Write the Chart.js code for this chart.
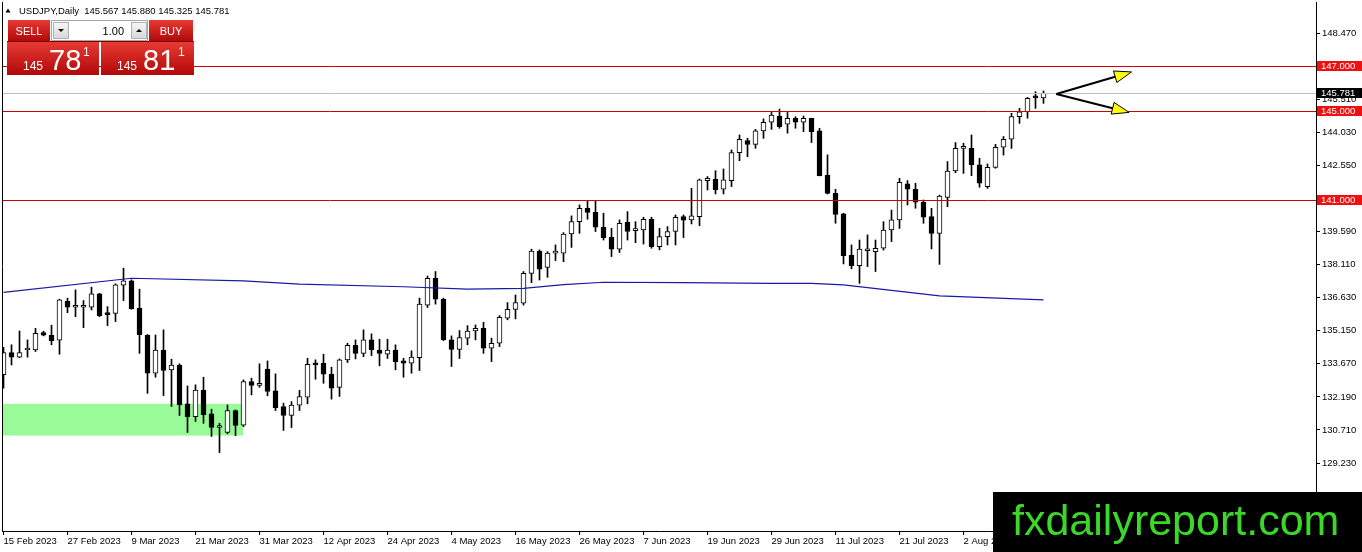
<!DOCTYPE html>
<html>
<head>
<meta charset="utf-8">
<title>USDJPY, Daily</title>
<script src="https://cdn.jsdelivr.net/npm/chart.js@4.4.0/dist/chart.umd.min.js"></script>
<style>
  html, body { margin: 0; padding: 0; background: #fff; }
  #wrap { position: relative; width: 1362px; height: 552px; overflow: hidden; }
</style>
</head>
<body>
<div id="wrap"><canvas id="chart" width="1362" height="552"></canvas></div>
<script>
// title line
const chartTitle = 'USDJPY,Daily';
const lastBar = ['145.567', '145.880', '145.325', '145.781'];

// daily candles, 15 Feb 2023 .. 16 Aug 2023 (one per weekday)
const opens = [
  133.18, 134.17, 133.97, 134.29, 134.29, 135.07, 134.95, 134.73, 136.47, 136.20,
  136.20, 136.20, 136.80, 135.96, 135.93, 137.19, 137.38, 136.16, 134.96, 133.25,
  134.29, 133.40, 133.61, 131.88, 131.31, 132.50, 131.43, 130.82, 130.60, 131.58,
  130.92, 132.88, 132.70, 133.43, 132.46, 131.76, 131.36, 131.82, 132.18, 133.70,
  133.70, 133.21, 132.62, 133.85, 134.50, 134.14, 134.74, 134.29, 134.10, 134.29,
  133.80, 133.70, 133.95, 136.29, 137.50, 136.56, 134.74, 134.32, 134.82, 135.14,
  135.26, 134.37, 134.59, 135.71, 136.11, 136.38, 137.72, 138.72, 137.98, 138.62,
  138.62, 139.48, 140.03, 140.63, 140.45, 139.78, 139.33, 138.80, 140.00, 139.63,
  139.66, 140.14, 138.91, 139.36, 139.59, 140.26, 140.11, 140.26, 141.87, 141.94,
  141.48, 141.87, 143.12, 143.66, 143.49, 144.09, 144.48, 144.76, 144.39, 144.66,
  144.48, 144.66, 144.09, 142.11, 141.30, 140.38, 138.54, 138.06, 138.73, 138.69,
  138.84, 139.66, 140.11, 141.72, 141.49, 140.90, 140.26, 139.51, 141.12, 142.30,
  143.31, 143.31, 142.57, 141.60, 142.46, 143.36, 143.72, 144.73, 144.95, 145.59,
  145.567
];
const highs = [
  134.41, 134.52, 135.14, 134.74, 135.26, 135.13, 135.40, 136.56, 136.61, 136.98,
  136.50, 137.10, 136.83, 136.23, 137.25, 137.95, 137.43, 137.01, 134.98, 134.96,
  135.19, 133.88, 133.67, 132.68, 132.73, 133.07, 131.64, 131.01, 131.83, 131.61,
  132.95, 133.03, 133.67, 133.80, 133.22, 131.91, 131.98, 132.48, 133.92, 133.85,
  134.10, 133.52, 133.89, 134.59, 134.74, 135.19, 135.01, 134.77, 134.77, 134.52,
  133.92, 134.25, 136.61, 137.60, 137.80, 136.61, 134.92, 135.16, 135.38, 135.41,
  135.53, 134.82, 135.83, 136.41, 136.75, 137.80, 138.80, 138.77, 138.69, 138.99,
  139.54, 140.29, 140.78, 140.97, 140.97, 140.41, 139.73, 140.11, 140.48, 140.03,
  140.23, 140.23, 139.73, 139.81, 140.33, 140.33, 141.52, 141.94, 142.05, 142.31,
  142.39, 143.24, 143.91, 143.76, 144.16, 144.63, 144.92, 145.07, 144.92, 144.73,
  144.76, 144.66, 144.21, 143.02, 141.48, 140.41, 138.99, 139.21, 139.44, 139.21,
  140.03, 140.55, 141.97, 141.87, 141.75, 141.00, 140.63, 141.22, 142.72, 143.57,
  143.54, 143.91, 142.87, 142.61, 143.49, 143.84, 144.88, 145.10, 145.59, 145.85,
  145.880
];
const lows = [
  132.58, 133.62, 133.95, 133.97, 134.22, 134.92, 134.52, 134.10, 135.96, 135.78,
  135.29, 136.08, 135.78, 135.38, 135.56, 136.50, 136.11, 134.14, 132.35, 133.07,
  132.25, 131.76, 131.36, 130.60, 131.09, 131.01, 130.42, 129.70, 130.54, 130.46,
  130.86, 132.28, 132.62, 132.24, 131.58, 130.69, 130.82, 131.58, 131.88, 132.98,
  132.80, 132.09, 132.21, 133.73, 133.89, 133.99, 134.04, 133.58, 133.91, 133.40,
  133.07, 133.25, 133.37, 136.19, 136.34, 134.71, 133.55, 133.91, 134.52, 134.74,
  134.14, 133.77, 134.44, 135.64, 135.68, 136.30, 137.30, 137.42, 137.54, 138.29,
  138.24, 138.88, 139.51, 140.14, 139.59, 139.21, 138.47, 138.65, 139.21, 139.09,
  139.03, 138.84, 138.77, 138.99, 138.99, 139.32, 139.93, 139.85, 141.45, 141.27,
  141.27, 141.60, 142.76, 142.94, 143.31, 143.76, 144.16, 144.21, 143.99, 144.21,
  144.06, 143.57, 142.08, 141.27, 139.96, 138.14, 137.92, 137.27, 138.02, 137.80,
  138.76, 139.14, 139.73, 140.78, 140.63, 139.96, 138.81, 138.12, 140.70, 142.22,
  142.19, 142.09, 141.57, 141.52, 142.42, 143.01, 143.31, 144.43, 144.66, 145.10,
  145.325
];
const closes = [
  134.17, 133.97, 134.17, 134.29, 135.04, 134.95, 134.71, 136.53, 136.20, 136.20,
  136.20, 136.80, 135.83, 135.87, 137.20, 137.38, 136.14, 134.98, 133.25, 134.29,
  133.37, 133.61, 131.83, 131.31, 132.50, 131.39, 130.82, 130.82, 131.58, 130.91,
  132.88, 132.70, 132.80, 132.43, 131.71, 131.36, 131.82, 132.21, 133.65, 133.62,
  133.21, 132.58, 133.85, 134.50, 134.14, 134.74, 134.29, 134.14, 134.29, 133.77,
  133.70, 133.97, 136.34, 137.50, 136.56, 134.74, 134.32, 134.85, 135.14, 135.26,
  134.37, 134.59, 135.75, 136.11, 136.41, 137.72, 138.72, 137.90, 138.62, 138.62,
  139.48, 140.03, 140.63, 140.45, 139.78, 139.32, 138.80, 139.96, 139.59, 139.63,
  140.14, 138.91, 139.36, 139.59, 140.23, 140.10, 140.29, 141.90, 141.97, 141.45,
  141.90, 143.12, 143.72, 143.49, 144.09, 144.48, 144.80, 144.28, 144.66, 144.48,
  144.66, 144.06, 142.09, 141.30, 140.36, 138.51, 138.06, 138.80, 138.73, 138.84,
  139.66, 140.11, 141.79, 141.48, 140.90, 140.23, 139.51, 141.18, 142.30, 143.31,
  143.31, 142.57, 141.75, 142.46, 143.36, 143.72, 144.73, 144.95, 145.55, 145.567,
  145.781
];

// moving average, read at a few bars
const maBars = [0, 16, 30, 37, 50, 58, 65, 70, 75, 85, 96, 101, 105, 108, 117, 130];
const maValues = [136.87, 137.50, 137.38, 137.24, 137.12, 137.01, 137.05, 137.21,
                  137.32, 137.30, 137.27, 137.27, 137.20, 137.08, 136.71, 136.53];

// axes
const xTickBars = [0, 8, 16, 24, 32, 40, 48, 56, 64, 72, 80, 88, 96, 104, 112, 120, 128];
const xTickLabels = ['15 Feb 2023', '27 Feb 2023', '9 Mar 2023', '21 Mar 2023', '31 Mar 2023',
  '12 Apr 2023', '24 Apr 2023', '4 May 2023', '16 May 2023', '26 May 2023', '7 Jun 2023',
  '19 Jun 2023', '29 Jun 2023', '11 Jul 2023', '21 Jul 2023', '2 Aug 2023', '14 Aug 2023'];
const yTicks = [129.23, 130.71, 132.19, 133.67, 135.15, 136.63, 138.11, 139.59,
                141.07, 142.55, 144.03, 145.51, 146.99, 148.47];

// drawn objects
const redLevels = [147.0, 145.0, 141.0];
const bidPrice = 145.781;
const zoneBars = [-1, 29.95];
const zonePrices = [130.46, 131.88];
const arrowFrom = [131.6, 145.74];
const arrowTo = [[141.0, 146.73], [140.7, 144.92]];

const bars = opens.map((_, i) => i);
const FONT = '"Liberation Sans", Arial, sans-serif';
Chart.defaults.font.family = FONT;

function drawArrow(ctx, x0, y0, x1, y1) {
    const a = Math.atan2(y1 - y0, x1 - x0);
    const len = 17, half = 6;
    const bx = x1 - len * Math.cos(a), by = y1 - len * Math.sin(a);
    ctx.strokeStyle = '#000';
    ctx.lineWidth = 2;
    ctx.beginPath();
    ctx.moveTo(x0, y0);
    ctx.lineTo(bx, by);
    ctx.stroke();
    ctx.beginPath();
    ctx.moveTo(x1, y1);
    ctx.lineTo(bx - half * Math.sin(a), by + half * Math.cos(a));
    ctx.lineTo(bx + half * Math.sin(a), by - half * Math.cos(a));
    ctx.closePath();
    ctx.fillStyle = '#ffff00';
    ctx.fill();
    ctx.lineWidth = 1;
    ctx.stroke();
}

function redBox(ctx, x, y, w, h) {
    const g = ctx.createLinearGradient(0, y, 0, y + h);
    g.addColorStop(0, '#e83a34');
    g.addColorStop(1, '#b10808');
    ctx.fillStyle = g;
    ctx.fillRect(x, y, w, h);
}

function grayButton(ctx, x, y, w, h, up) {
    const g = ctx.createLinearGradient(0, y, 0, y + h);
    g.addColorStop(0, '#f7f7f7');
    g.addColorStop(1, '#d6d6d6');
    ctx.fillStyle = g;
    ctx.fillRect(x, y, w, h);
    ctx.strokeStyle = '#b0b0b0';
    ctx.lineWidth = 1;
    ctx.strokeRect(x + 0.5, y + 0.5, w - 1, h - 1);
    const cx = x + w / 2, cy = y + h / 2;
    ctx.fillStyle = '#000';
    ctx.beginPath();
    if (up) {
        ctx.moveTo(cx - 3, cy + 1.5); ctx.lineTo(cx + 3, cy + 1.5); ctx.lineTo(cx, cy - 1.5);
    } else {
        ctx.moveTo(cx - 3, cy - 1.5); ctx.lineTo(cx + 3, cy - 1.5); ctx.lineTo(cx, cy + 1.5);
    }
    ctx.closePath();
    ctx.fill();
}

function drawTradePanel(ctx) {
    // tabs + lot box
    redBox(ctx, 8, 20, 42, 21);
    redBox(ctx, 149, 20, 44, 21);
    ctx.fillStyle = '#fff';
    ctx.fillRect(51, 20, 97, 21);
    ctx.strokeStyle = '#a8a8a8';
    ctx.strokeRect(51.5, 20.5, 96, 20);
    grayButton(ctx, 53, 22, 16, 17, false);
    grayButton(ctx, 131, 22, 16, 17, true);
    ctx.font = '11px ' + FONT;
    ctx.textBaseline = 'alphabetic';
    ctx.fillStyle = '#000';
    ctx.textAlign = 'right';
    ctx.fillText('1.00', 124, 35);
    ctx.textAlign = 'center';
    ctx.fillStyle = '#fff';
    ctx.fillText('SELL', 29, 35);
    ctx.fillText('BUY', 171, 35);
    // quotes
    ctx.fillStyle = '#7a0000';
    ctx.fillRect(7, 41, 187, 1);
    redBox(ctx, 7, 42, 92, 33);
    redBox(ctx, 101, 42, 93, 33);
    ctx.fillStyle = '#fff';
    ctx.textAlign = 'left';
    const quotes = [[23, 49, 83, '78'], [117, 143, 178, '81']];
    quotes.forEach(q => {
        ctx.font = '12px ' + FONT;
        ctx.fillText('145', q[0], 70);
        ctx.font = '29px ' + FONT;
        ctx.fillText(q[3], q[1], 70);
        ctx.font = '12px ' + FONT;
        ctx.fillText('1', q[2], 56);
    });
}

const mtPlugin = {
    id: 'mt4',
    beforeDatasetsDraw(chart) {
        const {ctx, chartArea, scales: {x, y}} = chart;
        const x0 = Math.max(chartArea.left, x.getPixelForValue(zoneBars[0]));
        const x1 = x.getPixelForValue(zoneBars[1]);
        const yTop = y.getPixelForValue(zonePrices[1]);
        const yBot = y.getPixelForValue(zonePrices[0]);
        ctx.save();
        ctx.fillStyle = '#98fb98';
        ctx.fillRect(x0, yTop, x1 - x0, yBot - yTop);
        ctx.restore();
    },
    afterDatasetsDraw(chart) {
        const {ctx, chartArea, scales: {x, y}} = chart;
        ctx.save();
        ctx.lineWidth = 1;
        const by = Math.round(y.getPixelForValue(bidPrice)) + 0.5;
        ctx.strokeStyle = '#c0c0c0';
        ctx.beginPath();
        ctx.moveTo(chartArea.left, by);
        ctx.lineTo(chartArea.right, by);
        ctx.stroke();
        ctx.strokeStyle = '#d00000';
        redLevels.forEach(v => {
            const ly = Math.round(y.getPixelForValue(v)) + 0.5;
            ctx.beginPath();
            ctx.moveTo(chartArea.left, ly);
            ctx.lineTo(chartArea.right, ly);
            ctx.stroke();
        });
        const sx = x.getPixelForValue(arrowFrom[0]), sy = y.getPixelForValue(arrowFrom[1]);
        arrowTo.forEach(t => drawArrow(ctx, sx, sy, x.getPixelForValue(t[0]), y.getPixelForValue(t[1])));
        ctx.restore();
    },
    afterDraw(chart) {
        const {ctx, chartArea, scales: {y}} = chart;
        ctx.save();
        // left frame
        ctx.strokeStyle = '#000';
        ctx.lineWidth = 1;
        ctx.beginPath();
        ctx.moveTo(chartArea.left + 0.5, chartArea.top);
        ctx.lineTo(chartArea.left + 0.5, chartArea.bottom);
        ctx.stroke();
        // price boxes on the axis
        ctx.font = '9.5px ' + FONT;
        ctx.textBaseline = 'middle';
        ctx.textAlign = 'left';
        const box = (v, fill) => {
            const py = Math.round(y.getPixelForValue(v));
            ctx.fillStyle = fill;
            ctx.fillRect(chartArea.right + 1, py - 5, 45, 10);
            ctx.fillStyle = '#fff';
            ctx.fillText(v.toFixed(3), chartArea.right + 5, py + 0.5);
        };
        redLevels.forEach(v => box(v, '#ee1111'));
        box(bidPrice, '#000');
        // title
        ctx.fillStyle = '#000';
        ctx.beginPath();
        ctx.moveTo(5.5, 12.5); ctx.lineTo(8, 8.5); ctx.lineTo(10.5, 12.5);
        ctx.closePath();
        ctx.fill();
        ctx.textBaseline = 'alphabetic';
        ctx.font = '9.5px ' + FONT;
        ctx.fillText(chartTitle + '  ' + lastBar.join(' '), 19, 14);
        drawTradePanel(ctx);
        // watermark
        ctx.fillStyle = '#000';
        ctx.fillRect(993, 492, 369, 60);
        ctx.fillStyle = '#3bd82a';
        ctx.font = '43px ' + FONT;
        ctx.textAlign = 'left';
        ctx.fillText('fxdailyreport.com', 1012, 535);
        ctx.restore();
    }
};

new Chart(document.getElementById('chart'), {
    type: 'bar',
    data: {
        datasets: [
            {
                type: 'line',
                label: 'MA',
                data: maBars.map((b, k) => ({x: b, y: maValues[k]})),
                borderColor: '#1a1aa6',
                borderWidth: 1.2,
                pointRadius: 0,
                tension: 0,
                order: 0
            },
            {
                label: 'body',
                data: bars.map(i => ({x: i, y: [opens[i], closes[i]]})),
                backgroundColor: bars.map(i => closes[i] >= opens[i] ? '#ffffff' : '#000000'),
                borderColor: '#000',
                borderWidth: 1,
                borderSkipped: false,
                barThickness: 5,
                minBarLength: 2,
                grouped: false,
                order: 1
            },
            {
                label: 'wick',
                data: bars.map(i => ({x: i, y: [lows[i], highs[i]]})),
                backgroundColor: '#000',
                barThickness: 1,
                grouped: false,
                order: 2
            }
        ]
    },
    options: {
        responsive: false,
        animation: false,
        events: [],
        layout: { padding: { left: 2, top: 2, right: 0, bottom: 0 } },
        plugins: { legend: { display: false }, tooltip: { enabled: false } },
        scales: {
            x: {
                type: 'linear',
                min: -0.1875,
                max: 164.0625,
                offset: false,
                grid: { drawOnChartArea: false, offset: false, color: '#000', tickLength: 4 },
                border: { color: '#000' },
                afterBuildTicks: s => { s.ticks = xTickBars.map(v => ({value: v})); },
                afterFit: s => { s.height = 21; s.paddingLeft = 0; s.paddingRight = 0; },
                ticks: {
                    autoSkip: false, maxRotation: 0, minRotation: 0, align: 'start', padding: 1,
                    color: '#000', font: { size: 9.5 },
                    callback: v => { const k = xTickBars.indexOf(v); return k < 0 ? '' : xTickLabels[k]; }
                }
            },
            y: {
                position: 'right',
                min: 126.19,
                max: 149.86,
                beginAtZero: false,
                grid: { drawOnChartArea: false, color: '#000', tickLength: 4 },
                border: { color: '#000' },
                afterBuildTicks: s => { s.ticks = yTicks.map(v => ({value: v})); },
                afterFit: s => { s.width = 46; s.paddingTop = 0; s.paddingBottom = 0; },
                ticks: {
                    autoSkip: false, padding: 2, color: '#000', font: { size: 9.5 },
                    callback: v => v.toFixed(3)
                }
            }
        }
    },
    plugins: [mtPlugin]
});
</script>
</body>
</html>
